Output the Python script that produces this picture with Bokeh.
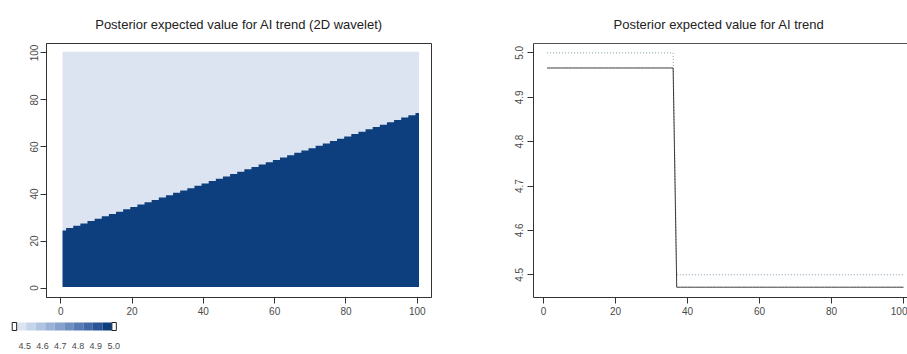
from bokeh.plotting import figure
from bokeh.models import (FixedTicker, LinearAxis, LinearColorMapper, Range1d,
                          ColumnDataSource)
from bokeh.layouts import row, column
from bokeh.embed import file_html
from bokeh.resources import INLINE
from bokeh.core.properties import value

# ---------------- data ----------------
left_title = "Posterior expected value for AI trend (2D wavelet)"
right_title = "Posterior expected value for AI trend"

# grid columns 1..100; top row (y index) of the high-value region in each column
col_index = list(range(1, 101))
col_top = [24, 25, 25, 26, 26, 27, 27, 28, 28, 29, 29, 30, 30, 31, 31, 32, 32,
           33, 33, 34, 34, 35, 35, 36, 36, 37, 37, 38, 38, 39, 39, 40, 40, 41,
           41, 42, 42, 43, 43, 44, 44, 45, 45, 46, 46, 47, 47, 48, 48, 49, 49,
           50, 50, 51, 51, 52, 52, 53, 53, 54, 54, 55, 55, 56, 56, 57, 57, 58,
           58, 59, 59, 60, 60, 61, 61, 62, 62, 63, 63, 64, 64, 65, 65, 66, 66,
           67, 67, 68, 68, 69, 69, 70, 70, 71, 71, 72, 72, 73, 73, 74]
grid_bottom = 1
grid_top = 100
high_value = 4.966
low_value = 4.472

palette = ["#DCE4F2", "#C6D4EA", "#B0C3E0", "#9AB1D6", "#84A0CB",
           "#6E8EC0", "#587BB3", "#4268A5", "#2A5494", "#0D3F7E"]
cb_breaks = [4.455, 4.5085, 4.562, 4.6155, 4.669, 4.7225, 4.776, 4.8295,
             4.883, 4.9365, 4.99]
cb_end_low = 4.43
cb_end_high = 5.015
cb_label_values = [4.5, 4.6, 4.7, 4.8, 4.9, 5.0]
cb_labels = ["4.5", "4.6", "4.7", "4.8", "4.9", "5.0"]

x_ticks = [0, 20, 40, 60, 80, 100]
y_ticks_left = [0, 20, 40, 60, 80, 100]
y_ticks_right = [4.5, 4.6, 4.7, 4.8, 4.9, 5.0]
y_tick_labels_right = ["4.5", "4.6", "4.7", "4.8", "4.9", "5.0"]

trend_x = list(range(1, 101))
posterior_mean = [4.966] * 36 + [4.472] * 64
true_trend = [5.0] * 36 + [4.5] * 64

# ---------------- style ----------------
FONT = "Liberation Sans"
AX = "#333333"
LAB = "#4a4a4a"

mapper = LinearColorMapper(palette=palette, low=cb_breaks[0], high=cb_breaks[-1])


def style_axis(ax, standoff):
    ax.axis_line_color = AX
    ax.major_tick_line_color = AX
    ax.major_tick_out = 6
    ax.major_tick_in = 0
    ax.minor_tick_line_color = None
    ax.major_label_text_font = FONT
    ax.major_label_text_font_size = "10px"
    ax.major_label_text_color = LAB
    ax.major_label_standoff = standoff


def style_title(p, text, standoff):
    p.title.text = text
    p.title.text_font = FONT
    p.title.text_font_size = "13px"
    p.title.text_font_style = "normal"
    p.title.text_color = "#222222"
    p.title.standoff = standoff
    p.title.vertical_align = "top"


# ---------------- left: heat map ----------------
p1 = figure(width=460, height=320, output_backend="svg", toolbar_location=None,
            x_range=Range1d(-4, 104), y_range=Range1d(-4, 104),
            min_border_left=46, min_border_right=29, min_border_top=42,
            min_border_bottom=23)
style_title(p1, left_title, 19)
p1.title.align = "center"
p1.grid.visible = False
p1.outline_line_color = AX

# low-value background cells (whole grid), then the high-value stepped region
bg_src = ColumnDataSource(dict(left=[col_index[0] - 0.5], right=[col_index[-1] + 0.5],
                               bottom=[grid_bottom - 0.5], top=[grid_top + 0.5],
                               val=[low_value]))
p1.quad(left="left", right="right", bottom="bottom", top="top", source=bg_src,
        fill_color={"field": "val", "transform": mapper}, line_color=None)
xs, ys = [col_index[0] - 0.5], [grid_bottom - 0.5]
for c, t in zip(col_index, col_top):
    xs += [c - 0.5, c + 0.5]
    ys += [t + 0.5, t + 0.5]
xs.append(col_index[-1] + 0.5)
ys.append(grid_bottom - 0.5)
dark_color = palette[int((high_value - cb_breaks[0]) / (cb_breaks[1] - cb_breaks[0]))]
p1.patch(xs, ys, fill_color=dark_color, line_color=None)

p1.xaxis.ticker = FixedTicker(ticks=x_ticks)
p1.yaxis.ticker = FixedTicker(ticks=y_ticks_left)
p1.yaxis.major_label_orientation = "vertical"
style_axis(p1.xaxis[0], 3)
style_axis(p1.yaxis[0], 2)

# ---------------- right: line chart ----------------
p2 = figure(width=447, height=320, output_backend="svg", toolbar_location=None,
            x_range=Range1d(-2.78, 101.1), y_range=Range1d(4.4488, 5.0212),
            min_border_left=73, min_border_right=0, min_border_top=43,
            min_border_bottom=23)
style_title(p2, right_title, 19)
p2.title.align = "left"
p2.title.offset = 80
p2.grid.visible = False
p2.outline_line_color = None

p2.line(trend_x, true_trend, line_color="#7D9AA8", line_width=1,
        line_dash="1 2")
p2.line(trend_x, posterior_mean, line_color="#3a3a3a", line_width=1)

p2.xaxis.ticker = FixedTicker(ticks=x_ticks)
p2.yaxis.ticker = FixedTicker(ticks=y_ticks_right)
p2.yaxis.major_label_overrides = dict(zip(y_ticks_right, y_tick_labels_right))
p2.yaxis.major_label_orientation = "vertical"
style_axis(p2.xaxis[0], 3)
style_axis(p2.yaxis[0], 4)
top_axis = LinearAxis(ticker=FixedTicker(ticks=[]), major_label_text_font_size="0px",
                      axis_line_color="#555555", major_tick_line_color=None,
                      minor_tick_line_color=None)
p2.add_layout(top_axis, "above")

# ---------------- colour key (below the left panel) ----------------
px_per_unit = 178.0
cb_left_px = 11.7
cb_width = 200
cb_height = 34
x0 = cb_end_low - cb_left_px / px_per_unit
pcb = figure(width=cb_width, height=cb_height, output_backend="svg",
             toolbar_location=None,
             x_range=Range1d(x0, x0 + cb_width / px_per_unit),
             y_range=Range1d(0, cb_height), x_axis_type=None, y_axis_type=None,
             min_border=0, min_border_left=0, min_border_right=0,
             min_border_top=0, min_border_bottom=0)
pcb.grid.visible = False
pcb.outline_line_color = None
pcb.quad(left=cb_breaks[:-1], right=cb_breaks[1:], bottom=24, top=32,
         fill_color=palette, line_color=None)
pcb.quad(left=[cb_end_low, cb_breaks[-1]], right=[cb_breaks[0], cb_end_high],
         bottom=24, top=32, fill_color="white", line_color="#222222",
         line_width=1)
pcb.text(x=cb_label_values, y=9, text=cb_labels, text_font=value(FONT),
         text_font_size="9px", text_color=LAB, text_align="center",
         text_baseline="middle")

layout = column(row(p1, p2), pcb)

open("out.html", "w").write(file_html(layout, INLINE))
